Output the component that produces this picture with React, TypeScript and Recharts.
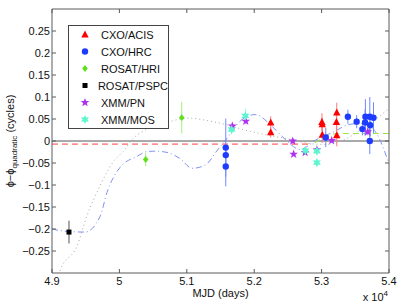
import React from "react"
import {
  ComposedChart,
  XAxis,
  YAxis,
  Line,
  Scatter,
  ErrorBar,
  ReferenceLine,
  Legend,
} from "recharts"

// MJD, phase residual (cycles), 1-sigma error
const acisMjd = [52245, 52245, 53005, 53010, 53010, 53220, 53225, 53225]
const acisPhase = [0.042, 0.02, 0.043, 0.038, 0.014, 0.043, 0.065, 0.013]
const acisErr = [0.014, 0.012, 0.02, 0.015, 0.018, 0.02, 0.022, 0.025]

const hrcMjd = [51578, 51578, 51578, 53062, 53390, 53520, 53605, 53645, 53650, 53715, 53720, 53715, 53770]
const hrcPhase = [-0.015, -0.032, -0.058, 0.008, 0.055, 0.044, 0.027, 0.042, 0.055, 0.055, 0.036, 0.0, 0.053]
const hrcErr = [0.066, 0.02, 0.045, 0.022, 0.016, 0.015, 0.014, 0.03, 0.04, 0.045, 0.025, 0.03, 0.035]

const hriMjd = [50390, 50925]
const hriPhase = [-0.042, 0.053]
const hriErr = [0.015, 0.036]

const psMjd = [49252]
const psPhase = [-0.207]
const psErr = [0.026]

const pnMjd = [51676, 51875, 52572, 52585, 52755, 52930, 53150, 53685]
const pnPhase = [0.034, 0.045, 0.0, -0.03, -0.026, -0.02, 0.001, 0.021]
const pnErr = [0.006, 0.006, 0.005, 0.005, 0.006, 0.005, 0.005, 0.008]

const mosMjd = [51665, 51870, 52760, 52930, 52930]
const mosPhase = [0.026, 0.057, -0.022, -0.023, -0.049]
const mosErr = [0.01, 0.016, 0.008, 0.008, 0.006]

// model curves
const dotMjd = [49050, 49119, 49371, 49519, 49712, 49905, 50083, 50172, 50454, 50707, 51003, 51449, 51938, 52280, 52532, 52829, 53081, 53348, 53645, 53986]
const dotPhase = [-0.33, -0.295, -0.239, -0.17, -0.102, -0.048, -0.019, 0, 0.03, 0.042, 0.052, 0.042, 0.022, 0.011, 0.004, -0.006, -0.008, 0.004, 0.032, 0.072]

const dashDotMjd = [49000, 49193, 49490, 49712, 49816, 50009, 50261, 50410, 50529, 50707, 50900, 51078, 51271, 51463, 51567, 51790, 52013, 52280, 52458, 52680, 52933, 53170, 53422, 53645, 53823, 53986]
const dashDotPhase = [-0.2, -0.205, -0.207, -0.172, -0.117, -0.06, -0.035, -0.024, -0.023, -0.026, -0.04, -0.062, -0.055, -0.019, 0, 0.045, 0.06, 0.031, 0.004, -0.019, 0.004, 0.02, 0.038, 0.04, 0.015, -0.045]

const redMjd = [49000, 52830]
const redPhase = [-0.007, -0.007]

const greenMjd = [52900, 53000, 53100, 53230, 54000]
const greenPhase = [-0.004, 0.005, 0.012, 0.017, 0.017]

const xTicks = [49000, 50000, 51000, 52000, 53000, 54000]
const yTicks = [-0.25, -0.2, -0.15, -0.1, -0.05, 0, 0.05, 0.1, 0.15, 0.2, 0.25]

const seriesNames = ["CXO/ACIS", "CXO/HRC", "ROSAT/HRI", "ROSAT/PSPC", "XMM/PN", "XMM/MOS"]
const seriesColors = ["#ff0000", "#1e3cff", "#5fe01c", "#000000", "#b030f0", "#5ff5d0"]
const barColors = ["#ff7a7a", "#7088ff", "#a6f07a", "#555555", "#c67af5", "#9af5e2"]
const seriesShapes = ["triangle", "circle", "diamond", "square", "pentagram", "hexagram"]

const toPoints = (xs: number[], ys: number[], es?: number[]) =>
  xs.map((x, i) => ({ x, y: ys[i], err: es ? es[i] : 0 }))

const scatterData = [
  toPoints(acisMjd, acisPhase, acisErr),
  toPoints(hrcMjd, hrcPhase, hrcErr),
  toPoints(hriMjd, hriPhase, hriErr),
  toPoints(psMjd, psPhase, psErr),
  toPoints(pnMjd, pnPhase, pnErr),
  toPoints(mosMjd, mosPhase, mosErr),
]

const axisColor = "#5a5a5a"
const font = "'Liberation Sans', Arial, sans-serif"

function starPoints(cx: number, cy: number, n: number, ro: number, ri: number) {
  const pts: string[] = []
  for (let i = 0; i < n * 2; i++) {
    const r = i % 2 === 0 ? ro : ri
    const a = -Math.PI / 2 + (i * Math.PI) / n
    pts.push(`${cx + r * Math.cos(a)},${cy + r * Math.sin(a)}`)
  }
  return pts.join(" ")
}

function Marker({ kind, cx, cy, color }: { kind: string; cx: number; cy: number; color: string }) {
  if (cx == null || cy == null) return null
  switch (kind) {
    case "triangle":
      return <polygon points={`${cx},${cy - 4} ${cx + 3.7},${cy + 3} ${cx - 3.7},${cy + 3}`} fill={color} />
    case "circle":
      return <circle cx={cx} cy={cy} r={3.2} fill={color} />
    case "diamond":
      return <polygon points={`${cx},${cy - 3.4} ${cx + 2.8},${cy} ${cx},${cy + 3.4} ${cx - 2.8},${cy}`} fill={color} />
    case "square":
      return <rect x={cx - 2.5} y={cy - 2.5} width={5} height={5} fill={color} />
    case "pentagram":
      return <polygon points={starPoints(cx, cy, 5, 4.6, 1.9)} fill={color} />
    default:
      return <polygon points={starPoints(cx, cy, 6, 4.6, 2.4)} fill={color} />
  }
}

const fmtY = (v: number) => String(Math.round(v * 100) / 100).replace("-", "\u2212")
const fmtX = (v: number) => String(v / 10000)

function LeftTick(p: any) {
  const { x, y, payload } = p
  return (
    <g>
      <line x1={x + 2} x2={x + 6} y1={y} y2={y} stroke={axisColor} />
      <text x={x} y={y} dy="0.35em" textAnchor="end" fontSize={11} fontFamily={font} fill="#111">
        {fmtY(payload.value)}
      </text>
    </g>
  )
}

function BottomTick(p: any) {
  const { x, y, payload } = p
  return (
    <g>
      <line x1={x} x2={x} y1={y - 4} y2={y - 8} stroke={axisColor} />
      <text x={x} y={y} dy="0.71em" textAnchor="middle" fontSize={11} fontFamily={font} fill="#111">
        {fmtX(payload.value)}
      </text>
    </g>
  )
}

function RightTick(p: any) {
  const { x, y } = p
  return <line x1={x} x2={x - 4} y1={y} y2={y} stroke={axisColor} />
}

function TopTick(p: any) {
  const { x, y } = p
  return <line x1={x} x2={x} y1={y} y2={y + 4} stroke={axisColor} />
}

function YLabel() {
  return (
    <text transform="translate(14,141) rotate(-90)" textAnchor="middle" fontSize={11} fontFamily={font} fill="#111">
      {"\u03D5\u2212\u03D5"}
      <tspan fontSize={8} dy={3}>quadratic</tspan>
      <tspan dy={-3}> (cycles)</tspan>
    </text>
  )
}

function XLabel(p: any) {
  const vb = p.viewBox || { x: 52, y: 273, width: 337, height: 30 }
  return (
    <g fontFamily={font} fill="#111">
      <text x={vb.x + vb.width / 2} y={vb.y + 24} textAnchor="middle" fontSize={11}>
        MJD (days)
      </text>
      <text x={388} y={301} textAnchor="end" fontSize={11}>
        x 10<tspan fontSize={8} dy={-5}>4</tspan>
      </text>
    </g>
  )
}

function LegendBox() {
  return (
    <div
      style={{
        boxSizing: "border-box",
        width: 101,
        height: 104,
        border: "1px solid #444",
        background: "#fff",
        fontFamily: font,
        fontSize: 11,
        color: "#111",
      }}
    >
      {seriesNames.map((name, i) => (
        <div key={name} style={{ height: 17, display: "flex", alignItems: "center" }}>
          <svg width={32} height={17} style={{ display: "block" }}>
            <Marker kind={seriesShapes[i]} cx={16} cy={8.5} color={seriesColors[i]} />
          </svg>
          <span style={{ whiteSpace: "nowrap" }}>{name}</span>
        </div>
      ))}
    </div>
  )
}

export default function App() {
  return (
    <div style={{ position: "absolute", left: 0, top: 0, background: "#fff" }}>
      <ComposedChart width={399} height={303} margin={{ top: 0, right: 0, bottom: 0, left: 0 }}>
        <XAxis
          dataKey="x"
          type="number"
          domain={[49000, 54000]}
          ticks={xTicks}
          interval={0}
          allowDataOverflow
          height={30}
          tickSize={0}
          tickMargin={4}
          tickLine={false}
          stroke={axisColor}
          tick={<BottomTick />}
          label={<XLabel />}
        />
        <XAxis
          xAxisId="top"
          orientation="top"
          dataKey="x"
          type="number"
          domain={[49000, 54000]}
          ticks={xTicks}
          interval={0}
          allowDataOverflow
          height={9}
          tickSize={0}
          tickMargin={0}
          tickLine={false}
          stroke={axisColor}
          tick={<TopTick />}
        />
        <YAxis
          dataKey="y"
          type="number"
          domain={[-0.3, 0.3]}
          ticks={yTicks}
          interval={0}
          allowDataOverflow
          width={52}
          tickSize={0}
          tickMargin={2}
          tickLine={false}
          stroke={axisColor}
          tick={<LeftTick />}
          label={<YLabel />}
        />
        <YAxis
          yAxisId="right"
          orientation="right"
          dataKey="y"
          type="number"
          domain={[-0.3, 0.3]}
          ticks={yTicks}
          interval={0}
          allowDataOverflow
          width={10}
          tickSize={0}
          tickMargin={0}
          tickLine={false}
          stroke={axisColor}
          tick={<RightTick />}
        />
        <Legend
          layout="vertical"
          align="center"
          verticalAlign="middle"
          wrapperStyle={{ left: 68, top: 25, width: 101, height: 104 }}
          content={<LegendBox />}
        />
        <ReferenceLine y={0} stroke="#555" strokeWidth={1} />
        <Line
          data={toPoints(redMjd, redPhase)}
          dataKey="y"
          stroke="#ff4040"
          strokeDasharray="6 4"
          dot={false}
          isAnimationActive={false}
          legendType="none"
        />
        <Line
          data={toPoints(greenMjd, greenPhase)}
          dataKey="y"
          type="monotone"
          stroke="#9be84a"
          strokeDasharray="6 4"
          dot={false}
          isAnimationActive={false}
          legendType="none"
        />
        <Line
          data={toPoints(dotMjd, dotPhase)}
          dataKey="y"
          type="monotone"
          stroke="#a8a8a8"
          strokeDasharray="1 3"
          dot={false}
          isAnimationActive={false}
          legendType="none"
        />
        <Line
          data={toPoints(dashDotMjd, dashDotPhase)}
          dataKey="y"
          type="monotone"
          stroke="#8092f2"
          strokeDasharray="6 3 1 3"
          dot={false}
          isAnimationActive={false}
          legendType="none"
        />
        {scatterData.map((d, i) => (
          <Scatter
            key={seriesNames[i]}
            name={seriesNames[i]}
            data={d}
            fill={seriesColors[i]}
            isAnimationActive={false}
            shape={(props: any) => <Marker kind={seriesShapes[i]} cx={props.cx} cy={props.cy} color={seriesColors[i]} />}
          >
            <ErrorBar dataKey="err" direction="y" width={0} stroke={barColors[i]} strokeWidth={1} />
          </Scatter>
        ))}
      </ComposedChart>
    </div>
  )
}
